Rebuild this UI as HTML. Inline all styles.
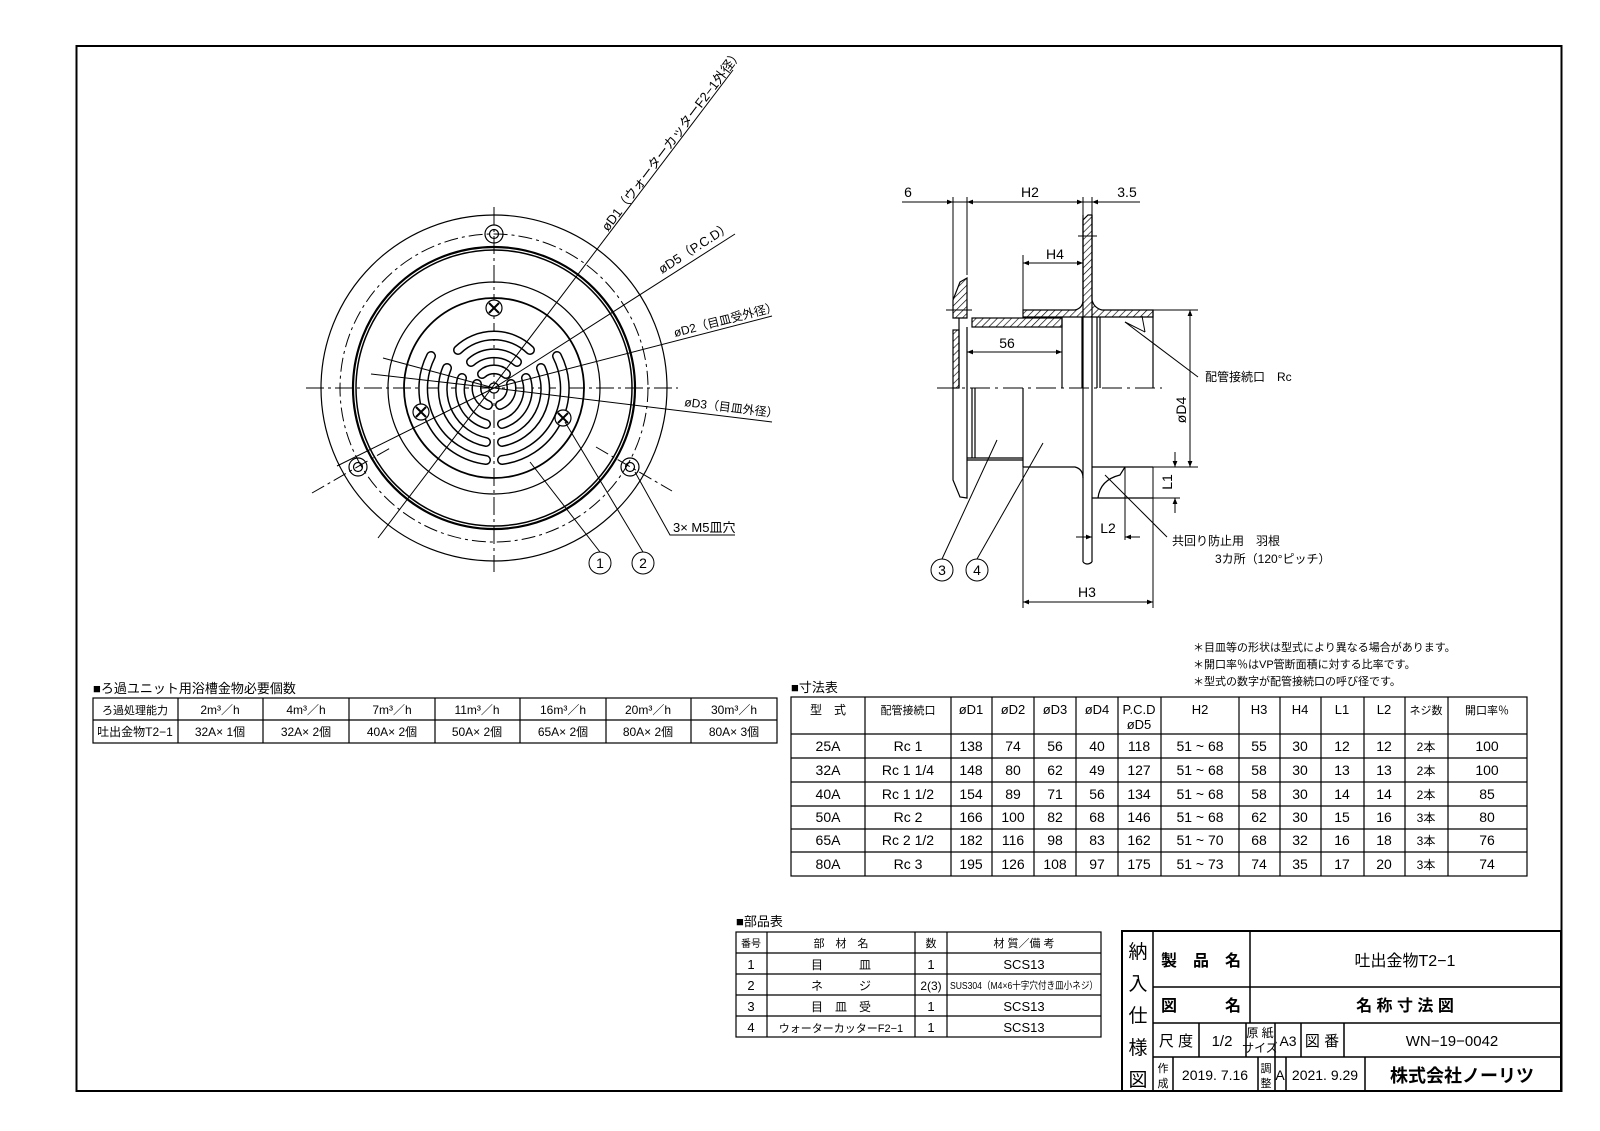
<!DOCTYPE html>
<html><head><meta charset="utf-8">
<style>
html,body{margin:0;padding:0;background:#fff;}
svg{display:block;}
text{font-family:"Liberation Sans","Noto Sans CJK JP",sans-serif;fill:#000;}
</style></head>
<body>
<svg width="1600" height="1131" viewBox="0 0 1600 1131" xmlns="http://www.w3.org/2000/svg">
<defs>
<pattern id="h" width="5" height="5" patternUnits="userSpaceOnUse" patternTransform="rotate(45)">
<rect width="5" height="5" fill="#fff"/><line x1="0" y1="0" x2="0" y2="5" stroke="#000" stroke-width="1.3"/>
</pattern>
<marker id="a" viewBox="0 0 10 10" refX="10" refY="5" markerWidth="8" markerHeight="6" orient="auto-start-reverse" markerUnits="userSpaceOnUse"><path d="M0,1 L10,5 L0,9 z" fill="#000"/></marker>
</defs>
<rect x="76.5" y="46" width="1485" height="1045" fill="none" stroke="#000" stroke-width="2"/>

<!-- ============ FRONT VIEW ============ -->
<g fill="none" stroke="#000" stroke-width="1.2">
<circle cx="494" cy="388" r="173"/>
<circle cx="494" cy="388" r="154" stroke-dasharray="14,4,3,4" stroke-width="1"/>
<circle cx="494" cy="388" r="141" stroke-width="2.2"/>
<circle cx="494" cy="388" r="138" stroke-width="1.5"/>
<circle cx="494" cy="388" r="106"/>
<circle cx="494" cy="388" r="90" stroke-width="1.8"/>
<line x1="306" y1="388" x2="678" y2="388" stroke-dasharray="18,4,3,4" stroke-width="1"/>
<line x1="494" y1="207" x2="494" y2="572" stroke-dasharray="18,4,3,4" stroke-width="1"/>
<line x1="312" y1="493" x2="392" y2="447" stroke-dasharray="14,4,3,4" stroke-width="1"/>
<line x1="596" y1="447" x2="672" y2="491" stroke-dasharray="14,4,3,4" stroke-width="1"/>
<circle cx="494" cy="234" r="9"/><circle cx="494" cy="234" r="4.5"/>
<circle cx="358" cy="467" r="9"/><circle cx="358" cy="467" r="4.5"/>
<circle cx="630" cy="467" r="9"/><circle cx="630" cy="467" r="4.5"/>
</g>
<!-- slots -->
<g fill="none" stroke-linecap="round">
<g stroke="#000" stroke-width="10">
<path d="M458,350 A52,52 0 0 1 530,350"/><path d="M471,362 A35,35 0 0 1 517,362"/><path d="M482,374 A18,18 0 0 1 506,374"/>
<path d="M431,356 A72,72 0 0 0 486,460"/><path d="M447,368 A54,54 0 0 0 486,442"/><path d="M462,378 A36,36 0 0 0 486,424"/><path d="M477,384 A18,18 0 0 0 488,405"/>
<path d="M557,356 A72,72 0 0 1 502,460"/><path d="M541,368 A54,54 0 0 1 502,442"/><path d="M526,378 A36,36 0 0 1 502,424"/><path d="M511,384 A18,18 0 0 1 500,405"/>
</g>
<g stroke="#fff" stroke-width="7">
<path d="M458,350 A52,52 0 0 1 530,350"/><path d="M471,362 A35,35 0 0 1 517,362"/><path d="M482,374 A18,18 0 0 1 506,374"/>
<path d="M431,356 A72,72 0 0 0 486,460"/><path d="M447,368 A54,54 0 0 0 486,442"/><path d="M462,378 A36,36 0 0 0 486,424"/><path d="M477,384 A18,18 0 0 0 488,405"/>
<path d="M557,356 A72,72 0 0 1 502,460"/><path d="M541,368 A54,54 0 0 1 502,442"/><path d="M526,378 A36,36 0 0 1 502,424"/><path d="M511,384 A18,18 0 0 1 500,405"/>
</g>
</g>
<g fill="#fff" stroke="#000" stroke-width="1.2">
<circle cx="494" cy="308" r="8"/><path d="M489,303 L499,313 M499,303 L489,313" stroke-width="2"/>
<circle cx="421" cy="412" r="8"/><path d="M416,407 L426,417 M426,407 L416,417" stroke-width="2"/>
<circle cx="563" cy="418" r="8"/><path d="M558,413 L568,423 M568,413 L558,423" stroke-width="2"/>
<circle cx="494" cy="388" r="5"/>
</g>
<g stroke="#000" stroke-width="1" fill="none">
<line x1="378" y1="538" x2="733" y2="70"/>
<line x1="494" y1="388" x2="735" y2="234" />
<line x1="337" y1="466" x2="494" y2="388"/>
<line x1="494" y1="388" x2="772" y2="316"/>
<line x1="383" y1="358" x2="494" y2="388"/>
<line x1="494" y1="388" x2="772" y2="422"/>
<line x1="371" y1="374" x2="494" y2="388"/>
<line x1="600" y1="552" x2="530" y2="462"/>
<line x1="643" y1="552" x2="565" y2="422"/>
<polyline points="635,472 670,535 735,535"/>
</g>
<circle cx="600" cy="563" r="11" fill="#fff" stroke="#000"/>
<circle cx="643" cy="563" r="11" fill="#fff" stroke="#000"/>
<text x="600" y="568" font-size="14" text-anchor="middle">1</text>
<text x="643" y="568" font-size="14" text-anchor="middle">2</text>
<text x="673" y="532" font-size="13">3× M5皿穴</text>
<text font-size="13" transform="translate(608,232) rotate(-52.9)">øD1（ウォーターカッターF2−1外径）</text>
<text font-size="13" transform="translate(662,274) rotate(-32.6)">øD5（P.C.D）</text>
<text font-size="12" transform="translate(675,337) rotate(-14.4)">øD2（目皿受外径）</text>
<text font-size="12" transform="translate(684,406) rotate(7)">øD3（目皿外径）</text>

<!-- ============ SIDE VIEW ============ -->
<g stroke="#000" stroke-width="1.2">
<line x1="902" y1="202" x2="1140" y2="202" stroke-width="1"/>
<line x1="953" y1="197" x2="953" y2="300" stroke-width="1"/>
<line x1="967" y1="197" x2="967" y2="275" stroke-width="1"/>
<line x1="1083" y1="197" x2="1083" y2="215" stroke-width="1"/>
<line x1="1092" y1="197" x2="1092" y2="215" stroke-width="1"/>
<path d="M1083,220 L1088,215 L1092,215 L1092,300 Q1094,308 1102,310 L1153,310 L1153,317 L1023,317 L1023,310 L1075,310 Q1083,308 1083,300 Z" fill="url(#h)"/>
<line x1="1078" y1="236" x2="1097" y2="236" stroke-width="1"/>
<path d="M953,300 L960,282 L967,278 L967,318 L953,318 Z" fill="url(#h)"/>
<rect x="972" y="318" width="90" height="9" fill="url(#h)"/>
<rect x="953" y="330" width="6" height="58" fill="url(#h)"/>
<line x1="946" y1="310" x2="972" y2="310" stroke-width="1"/>
<line x1="1062" y1="317" x2="1062" y2="388"/>
<line x1="1082" y1="317" x2="1082" y2="388"/>
<line x1="1097" y1="317" x2="1097" y2="388"/>
<line x1="1100" y1="317" x2="1100" y2="388"/>
<line x1="1153" y1="310" x2="1153" y2="388"/>
<line x1="967" y1="327" x2="967" y2="388"/>
<line x1="959" y1="318" x2="959" y2="388"/>
<line x1="1083" y1="215" x2="1083" y2="562"/>
<line x1="1092" y1="215" x2="1092" y2="562"/>
<path d="M1083,562 Q1087,566 1092,562" fill="none"/>
<line x1="1125" y1="322" x2="1145" y2="332" stroke-width="1"/><line x1="1145" y1="332" x2="1142" y2="316" stroke-width="1"/>
<line x1="937" y1="388" x2="1162" y2="388" stroke-width="1" stroke-dasharray="20,5,3,5"/>
<path d="M953,388 L953,480 L960,497 L967,498 L967,388" fill="none"/>
<line x1="972" y1="388" x2="972" y2="458"/>
<line x1="975" y1="388" x2="975" y2="458"/>
<line x1="967" y1="458" x2="1023" y2="458"/>
<line x1="967" y1="460" x2="1023" y2="460"/>
<line x1="1023" y1="388" x2="1023" y2="467"/>
<path d="M1023,467 L1075,467 Q1083,469 1083,478" fill="none"/>
<line x1="1092" y1="467" x2="1153" y2="467"/>
<line x1="1092" y1="498" x2="1153" y2="498"/>
<line x1="1125" y1="467" x2="1125" y2="540" stroke-width="1"/>
<path d="M1098,498 Q1100,480 1120,475 L1125,467" fill="none"/>
<line x1="1153" y1="467" x2="1153" y2="608" stroke-width="1"/>
<line x1="1023" y1="467" x2="1023" y2="608" stroke-width="1"/>
</g>
<g stroke="#000" stroke-width="1" fill="none">
<line x1="1023" y1="263" x2="1083" y2="263" marker-start="url(#a)" marker-end="url(#a)"/>
<line x1="1023" y1="255" x2="1023" y2="310"/>
<line x1="967" y1="352" x2="1062" y2="352" marker-start="url(#a)" marker-end="url(#a)"/>
<line x1="1153" y1="310" x2="1198" y2="310"/>
<line x1="1153" y1="467" x2="1198" y2="467"/>
<line x1="1190" y1="310" x2="1190" y2="467" marker-start="url(#a)" marker-end="url(#a)"/>
<line x1="1153" y1="498" x2="1180" y2="498"/>
<line x1="1175" y1="452" x2="1175" y2="467" marker-end="url(#a)"/>
<line x1="1175" y1="513" x2="1175" y2="498" marker-end="url(#a)"/>
<line x1="1076" y1="537" x2="1092" y2="537" marker-end="url(#a)"/>
<line x1="1140" y1="537" x2="1125" y2="537" marker-end="url(#a)"/>
<line x1="1023" y1="602" x2="1153" y2="602" marker-start="url(#a)" marker-end="url(#a)"/>
<line x1="1125" y1="322" x2="1198" y2="377"/>
<line x1="1105" y1="475" x2="1167" y2="537"/>
<line x1="942" y1="559" x2="997" y2="440"/>
<line x1="977" y1="559" x2="1043" y2="443"/>
<line x1="936" y1="202" x2="953" y2="202" marker-end="url(#a)"/>
<line x1="967" y1="202" x2="1083" y2="202" marker-start="url(#a)" marker-end="url(#a)"/>
<line x1="1110" y1="202" x2="1092" y2="202" marker-end="url(#a)"/>
</g>
<circle cx="942" cy="570" r="11" fill="#fff" stroke="#000"/>
<circle cx="977" cy="570" r="11" fill="#fff" stroke="#000"/>
<text x="942" y="575" font-size="14" text-anchor="middle">3</text>
<text x="977" y="575" font-size="14" text-anchor="middle">4</text>
<text x="908" y="197" font-size="14" text-anchor="middle">6</text>
<text x="1030" y="197" font-size="14" text-anchor="middle">H2</text>
<text x="1127" y="197" font-size="14" text-anchor="middle">3.5</text>
<text x="1055" y="259" font-size="14" text-anchor="middle">H4</text>
<text x="1007" y="348" font-size="14" text-anchor="middle">56</text>
<text x="1205" y="381" font-size="12">配管接続口　Rc</text>
<text font-size="14" transform="translate(1186,410) rotate(-90)" text-anchor="middle">øD4</text>
<text font-size="14" transform="translate(1172,482) rotate(-90)" text-anchor="middle">L1</text>
<text x="1108" y="533" font-size="14" text-anchor="middle">L2</text>
<text x="1087" y="597" font-size="14" text-anchor="middle">H3</text>
<text x="1172" y="545" font-size="12">共回り防止用　羽根</text>
<text x="1215" y="563" font-size="12">3カ所（120°ピッチ）</text>

<text x="1193" y="651" font-size="11">＊目皿等の形状は型式により異なる場合があります。</text>
<text x="1193" y="668" font-size="11">＊開口率％はVP管断面積に対する比率です。</text>
<text x="1193" y="685" font-size="11">＊型式の数字が配管接続口の呼び径です。</text>

<text x="93" y="693" font-size="13">■ろ過ユニット用浴槽金物必要個数</text>
<g stroke="#000" stroke-width="1.2" fill="none">
<rect x="93" y="698" width="684" height="45"/>
<line x1="93" y1="720" x2="777" y2="720"/>
<line x1="178" y1="698" x2="178" y2="743"/><line x1="263" y1="698" x2="263" y2="743"/>
<line x1="349" y1="698" x2="349" y2="743"/><line x1="435" y1="698" x2="435" y2="743"/>
<line x1="520" y1="698" x2="520" y2="743"/><line x1="606" y1="698" x2="606" y2="743"/>
<line x1="691" y1="698" x2="691" y2="743"/>
</g>
<g font-size="12" text-anchor="middle">
<text x="135" y="714" font-size="11">ろ過処理能力</text>
<text x="220" y="714">2m³／h</text><text x="306" y="714">4m³／h</text><text x="392" y="714">7m³／h</text>
<text x="477" y="714">11m³／h</text><text x="563" y="714">16m³／h</text><text x="648" y="714">20m³／h</text><text x="734" y="714">30m³／h</text>
<text x="135" y="736">吐出金物T2−1</text>
<text x="220" y="736">32A× 1個</text><text x="306" y="736">32A× 2個</text><text x="392" y="736">40A× 2個</text>
<text x="477" y="736">50A× 2個</text><text x="563" y="736">65A× 2個</text><text x="648" y="736">80A× 2個</text><text x="734" y="736">80A× 3個</text>
</g>

<text x="791" y="692" font-size="13">■寸法表</text>
<g stroke="#000" stroke-width="1.2" fill="none">
<rect x="791" y="697" width="736" height="179"/>
<line x1="791" y1="734" x2="1527" y2="734"/><line x1="791" y1="758" x2="1527" y2="758"/>
<line x1="791" y1="782" x2="1527" y2="782"/><line x1="791" y1="806" x2="1527" y2="806"/>
<line x1="791" y1="829" x2="1527" y2="829"/><line x1="791" y1="852" x2="1527" y2="852"/>
<line x1="865" y1="697" x2="865" y2="876"/><line x1="951" y1="697" x2="951" y2="876"/>
<line x1="992" y1="697" x2="992" y2="876"/><line x1="1034" y1="697" x2="1034" y2="876"/>
<line x1="1076" y1="697" x2="1076" y2="876"/><line x1="1118" y1="697" x2="1118" y2="876"/>
<line x1="1161" y1="697" x2="1161" y2="876"/><line x1="1239" y1="697" x2="1239" y2="876"/>
<line x1="1280" y1="697" x2="1280" y2="876"/><line x1="1321" y1="697" x2="1321" y2="876"/>
<line x1="1364" y1="697" x2="1364" y2="876"/><line x1="1405" y1="697" x2="1405" y2="876"/>
<line x1="1448" y1="697" x2="1448" y2="876"/>
</g>
<g font-size="13" text-anchor="middle">
<text x="828" y="714" font-size="12">型　式</text><text x="908" y="714" font-size="11">配管接続口</text>
<text x="971" y="714">øD1</text><text x="1013" y="714">øD2</text><text x="1055" y="714">øD3</text><text x="1097" y="714">øD4</text>
<text x="1139" y="714">P.C.D</text><text x="1139" y="729">øD5</text>
<text x="1200" y="714">H2</text><text x="1259" y="714">H3</text><text x="1300" y="714">H4</text>
<text x="1342" y="714">L1</text><text x="1384" y="714">L2</text><text x="1426" y="714" font-size="11">ネジ数</text><text x="1487" y="714" font-size="11">開口率％</text>
</g>
<g font-size="14" text-anchor="middle">
<text x="828" y="751">25A</text><text x="908" y="751">Rc 1</text><text x="971" y="751">138</text><text x="1013" y="751">74</text><text x="1055" y="751">56</text><text x="1097" y="751">40</text><text x="1139" y="751">118</text><text x="1200" y="751">51 ~ 68</text><text x="1259" y="751">55</text><text x="1300" y="751">30</text><text x="1342" y="751">12</text><text x="1384" y="751">12</text><text x="1426" y="751" font-size="12">2本</text><text x="1487" y="751">100</text>
<text x="828" y="775">32A</text><text x="908" y="775">Rc 1 1/4</text><text x="971" y="775">148</text><text x="1013" y="775">80</text><text x="1055" y="775">62</text><text x="1097" y="775">49</text><text x="1139" y="775">127</text><text x="1200" y="775">51 ~ 68</text><text x="1259" y="775">58</text><text x="1300" y="775">30</text><text x="1342" y="775">13</text><text x="1384" y="775">13</text><text x="1426" y="775" font-size="12">2本</text><text x="1487" y="775">100</text>
<text x="828" y="799">40A</text><text x="908" y="799">Rc 1 1/2</text><text x="971" y="799">154</text><text x="1013" y="799">89</text><text x="1055" y="799">71</text><text x="1097" y="799">56</text><text x="1139" y="799">134</text><text x="1200" y="799">51 ~ 68</text><text x="1259" y="799">58</text><text x="1300" y="799">30</text><text x="1342" y="799">14</text><text x="1384" y="799">14</text><text x="1426" y="799" font-size="12">2本</text><text x="1487" y="799">85</text>
<text x="828" y="822">50A</text><text x="908" y="822">Rc 2</text><text x="971" y="822">166</text><text x="1013" y="822">100</text><text x="1055" y="822">82</text><text x="1097" y="822">68</text><text x="1139" y="822">146</text><text x="1200" y="822">51 ~ 68</text><text x="1259" y="822">62</text><text x="1300" y="822">30</text><text x="1342" y="822">15</text><text x="1384" y="822">16</text><text x="1426" y="822" font-size="12">3本</text><text x="1487" y="822">80</text>
<text x="828" y="845">65A</text><text x="908" y="845">Rc 2 1/2</text><text x="971" y="845">182</text><text x="1013" y="845">116</text><text x="1055" y="845">98</text><text x="1097" y="845">83</text><text x="1139" y="845">162</text><text x="1200" y="845">51 ~ 70</text><text x="1259" y="845">68</text><text x="1300" y="845">32</text><text x="1342" y="845">16</text><text x="1384" y="845">18</text><text x="1426" y="845" font-size="12">3本</text><text x="1487" y="845">76</text>
<text x="828" y="869">80A</text><text x="908" y="869">Rc 3</text><text x="971" y="869">195</text><text x="1013" y="869">126</text><text x="1055" y="869">108</text><text x="1097" y="869">97</text><text x="1139" y="869">175</text><text x="1200" y="869">51 ~ 73</text><text x="1259" y="869">74</text><text x="1300" y="869">35</text><text x="1342" y="869">17</text><text x="1384" y="869">20</text><text x="1426" y="869" font-size="12">3本</text><text x="1487" y="869">74</text>
</g>

<text x="736" y="926" font-size="13">■部品表</text>
<g stroke="#000" stroke-width="1.2" fill="none">
<rect x="736" y="932" width="365" height="105"/>
<line x1="736" y1="953" x2="1101" y2="953"/><line x1="736" y1="974" x2="1101" y2="974"/>
<line x1="736" y1="995" x2="1101" y2="995"/><line x1="736" y1="1016" x2="1101" y2="1016"/>
<line x1="767" y1="932" x2="767" y2="1037"/><line x1="915" y1="932" x2="915" y2="1037"/><line x1="947" y1="932" x2="947" y2="1037"/>
</g>
<g font-size="13" text-anchor="middle">
<text x="751" y="947" font-size="10">番号</text><text x="841" y="947" font-size="11">部　材　名</text><text x="931" y="947" font-size="11">数</text><text x="1024" y="947" font-size="11">材 質／備 考</text>
<text x="751" y="969">1</text><text x="841" y="969" font-size="12">目　　　皿</text><text x="931" y="969">1</text><text x="1024" y="969">SCS13</text>
<text x="751" y="990">2</text><text x="841" y="990" font-size="12">ネ　　　ジ</text><text x="931" y="990" font-size="12">2(3)</text><text x="1024" y="989" font-size="10" textLength="148" lengthAdjust="spacingAndGlyphs">SUS304（M4×6十字穴付き皿小ネジ）</text>
<text x="751" y="1011">3</text><text x="841" y="1011" font-size="12">目　皿　受</text><text x="931" y="1011">1</text><text x="1024" y="1011">SCS13</text>
<text x="751" y="1032">4</text><text x="841" y="1032" font-size="11">ウォーターカッターF2−1</text><text x="931" y="1032">1</text><text x="1024" y="1032">SCS13</text>
</g>

<g stroke="#000" stroke-width="1.5" fill="none">
<rect x="1122" y="931" width="439" height="160" stroke-width="2"/>
<line x1="1153" y1="931" x2="1153" y2="1091"/>
<line x1="1153" y1="987" x2="1561" y2="987"/>
<line x1="1153" y1="1023" x2="1561" y2="1023"/>
<line x1="1153" y1="1057" x2="1561" y2="1057"/>
<line x1="1250" y1="931" x2="1250" y2="1023"/>
<line x1="1199" y1="1023" x2="1199" y2="1057"/><line x1="1246" y1="1023" x2="1246" y2="1057"/>
<line x1="1275" y1="1023" x2="1275" y2="1091"/><line x1="1301" y1="1023" x2="1301" y2="1057"/>
<line x1="1344" y1="1023" x2="1344" y2="1057"/>
<line x1="1173" y1="1057" x2="1173" y2="1091"/><line x1="1258" y1="1057" x2="1258" y2="1091"/>
<line x1="1286" y1="1057" x2="1286" y2="1091"/><line x1="1365" y1="1057" x2="1365" y2="1091"/>
</g>
<g font-size="19" text-anchor="middle">
<text x="1138" y="958">納</text><text x="1138" y="990">入</text><text x="1138" y="1022">仕</text><text x="1138" y="1054">様</text><text x="1138" y="1086">図</text>
</g>
<text x="1201" y="966" font-size="16" font-weight="bold" text-anchor="middle">製　品　名</text>
<text x="1405" y="966" font-size="16" text-anchor="middle">吐出金物T2−1</text>
<text x="1201" y="1011" font-size="16" font-weight="bold" text-anchor="middle">図　　　名</text>
<text x="1405" y="1011" font-size="16" font-weight="bold" text-anchor="middle">名 称 寸 法 図</text>
<text x="1176" y="1046" font-size="15" text-anchor="middle">尺 度</text>
<text x="1222" y="1046" font-size="15" text-anchor="middle">1/2</text>
<text x="1260" y="1037" font-size="12" text-anchor="middle">原 紙</text>
<text x="1260" y="1052" font-size="12" text-anchor="middle">サイズ</text>
<text x="1288" y="1046" font-size="14" text-anchor="middle">A3</text>
<text x="1322" y="1046" font-size="15" text-anchor="middle">図 番</text>
<text x="1452" y="1046" font-size="15" text-anchor="middle">WN−19−0042</text>
<text x="1163" y="1072" font-size="11" text-anchor="middle">作</text><text x="1163" y="1087" font-size="11" text-anchor="middle">成</text>
<text x="1215" y="1080" font-size="14" text-anchor="middle">2019. 7.16</text>
<text x="1266" y="1072" font-size="11" text-anchor="middle">調</text><text x="1266" y="1087" font-size="11" text-anchor="middle">整</text>
<text x="1280" y="1080" font-size="14" text-anchor="middle">A</text>
<text x="1325" y="1080" font-size="14" text-anchor="middle">2021. 9.29</text>
<text x="1462" y="1082" font-size="18" font-weight="bold" text-anchor="middle">株式会社ノーリツ</text>
</svg>
</body></html>
